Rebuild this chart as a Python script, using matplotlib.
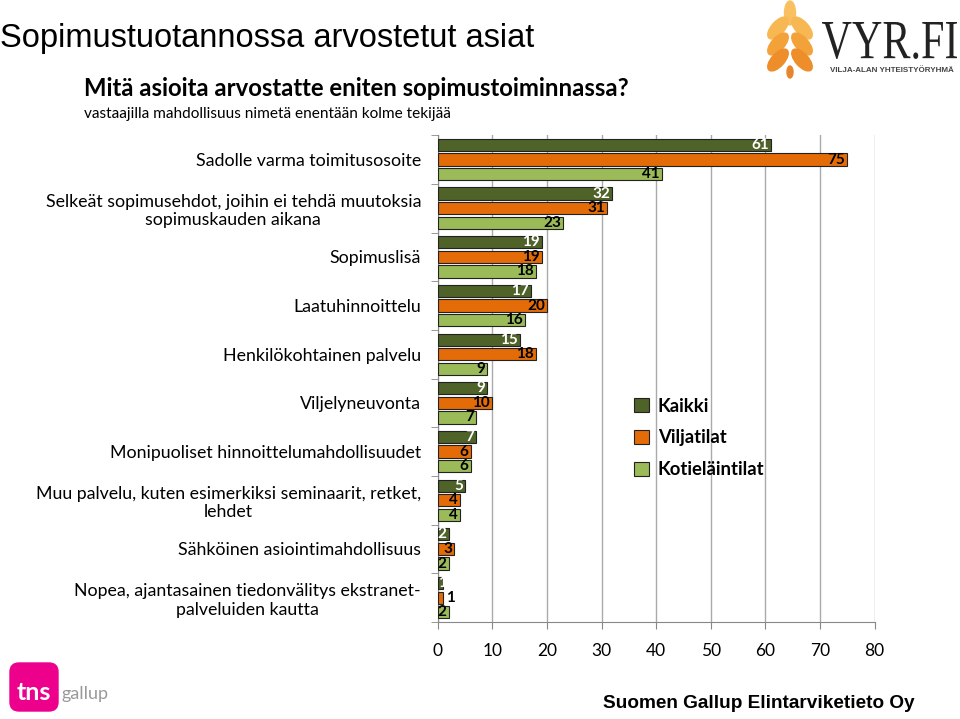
import numpy as np
import matplotlib.pyplot as plt
from matplotlib.patches import Ellipse, FancyBboxPatch, PathPatch
from matplotlib.textpath import TextPath
from matplotlib.font_manager import FontProperties
from matplotlib.transforms import Affine2D

categories = ['Sadolle varma toimitusosoite',
              'Selkeät sopimusehdot, joihin ei tehdä muutoksia\nsopimuskauden aikana',
              'Sopimuslisä',
              'Laatuhinnoittelu',
              'Henkilökohtainen palvelu',
              'Viljelyneuvonta',
              'Monipuoliset hinnoittelumahdollisuudet',
              'Muu palvelu, kuten esimerkiksi seminaarit, retket,\nlehdet',
              'Sähköinen asiointimahdollisuus',
              'Nopea, ajantasainen tiedonvälitys ekstranet-\npalveluiden kautta']
kaikki = [61, 32, 19, 17, 15, 9, 7, 5, 2, 1]
viljatilat = [75, 31, 19, 20, 18, 10, 6, 4, 3, 1]
kotielaintilat = [41, 23, 18, 16, 9, 7, 6, 4, 2, 2]
series_names = ['Kaikki', 'Viljatilat', 'Kotieläintilat']
colors = ['#4F6228', '#E36C09', '#9BBB59']
label_colors = ['white', 'black', 'black']

plt.rcParams['font.family'] = ['Lato', 'DejaVu Sans']

fig = plt.figure(figsize=(9.6, 7.19), dpi=100)
ax = fig.add_axes([0.456, 0.135, 0.455, 0.677])

y = np.arange(len(categories))
offsets = [-0.3, 0.0, 0.3]
data = [kaikki, viljatilat, kotielaintilat]
for k, (vals, off, col, lc, name) in enumerate(zip(data, offsets, colors, label_colors, series_names)):
    ax.barh(y + off, vals, height=0.25, color=col, edgecolor='#222222',
            linewidth=0.8, label=name, zorder=3)
    for yy, v in zip(y + off, vals):
        if v < 2 and k > 0:
            ax.text(v + 0.6, yy, str(v), ha='left', va='center', fontsize=11,
                    fontweight='bold', color='black', zorder=4)
        else:
            ax.text(max(v - 0.4, 1.6), yy, str(v), ha='right', va='center', fontsize=11,
                    fontweight='bold', color=lc, zorder=4)

ax.set_xlim(0, 80)
ax.set_ylim(9.5, -0.5)
ax.set_xticks(range(0, 81, 10))
ax.set_yticks(y)
ax.set_yticklabels(categories, fontsize=12.8, multialignment='center')
ax.set_yticks(np.arange(-0.5, 10, 1), minor=True)
ax.tick_params(axis='y', which='major', length=0, pad=12)
ax.tick_params(axis='y', which='minor', length=5, color='#888888')
ax.tick_params(axis='x', length=5, color='#888888', labelsize=12.5, pad=10)
ax.grid(axis='x', color='#AAAAAA', linewidth=1, zorder=0)
for s in ['top', 'right']:
    ax.spines[s].set_visible(False)
for s in ['left', 'bottom']:
    ax.spines[s].set_color('#888888')

fig.legend(loc='upper left', bbox_to_anchor=(0.643, 0.47), frameon=False,
           prop={'size': 13.3, 'weight': 'bold'}, handlelength=0.8,
           handleheight=0.8, handletextpad=0.5, labelspacing=0.8)

fig.text(0.0, 0.946, 'Sopimustuotannossa arvostetut asiat', fontsize=23.5,
         family='Liberation Sans', va='center', ha='left')
fig.text(0.088, 0.877, 'Mitä asioita arvostatte eniten sopimustoiminnassa?',
         fontsize=17.2, fontweight='bold', va='center')
fig.text(0.088, 0.842, 'vastaajilla mahdollisuus nimetä enentään kolme tekijää',
         fontsize=11.1, va='center')
fig.text(0.953, 0.022, 'Suomen Gallup Elintarviketieto Oy', fontsize=13.7,
         fontweight='bold', family='Liberation Sans', ha='right', va='center')

# VYR.FI logo
lg = fig.add_axes([0, 0, 1, 1], zorder=-1)
lg.set_xlim(0, 960)
lg.set_ylim(719, 0)
lg.axis('off')
lg.add_patch(Ellipse((790, 13), 11, 24, color='#F8C060'))
grain_rows = [(28, '#F7B752'), (44, '#F3A23A'), (60, '#EE8E2A')]
for yy, c in grain_rows:
    lg.add_patch(Ellipse((778, yy), 13, 27, angle=42, color=c))
    lg.add_patch(Ellipse((802, yy), 13, 27, angle=-42, color=c))
lg.add_patch(Ellipse((790, 72), 6, 12, color='#E8842A'))

tp = TextPath((0, 0), 'VYR.FI', size=50,
              prop=FontProperties(family='Liberation Serif'))
ext = tp.get_extents()
sx = 135 / ext.width
sy = 37 / ext.height
tr = Affine2D().translate(-ext.x0, -ext.y0).scale(sx, -sy).translate(822, 59)
lg.add_patch(PathPatch(tr.transform_path(tp), color='#222222', lw=0))
lg.text(830, 70, 'VILJA-ALAN YHTEISTYÖRYHMÄ', family='Liberation Sans', fontsize=5.8,
        fontweight='bold', color='#444444', va='center', ha='left')

# tns gallup logo
lg.add_patch(FancyBboxPatch((10, 663), 48, 48, boxstyle='round,pad=0,rounding_size=9',
                            color='#EC008C'))
lg.text(34, 693, 'tns', fontsize=18, fontweight='bold', color='white',
        ha='center', va='center')
lg.text(62, 694, 'gallup', fontsize=13, color='#999999', ha='left', va='center')

plt.savefig('out.png', dpi=100)
